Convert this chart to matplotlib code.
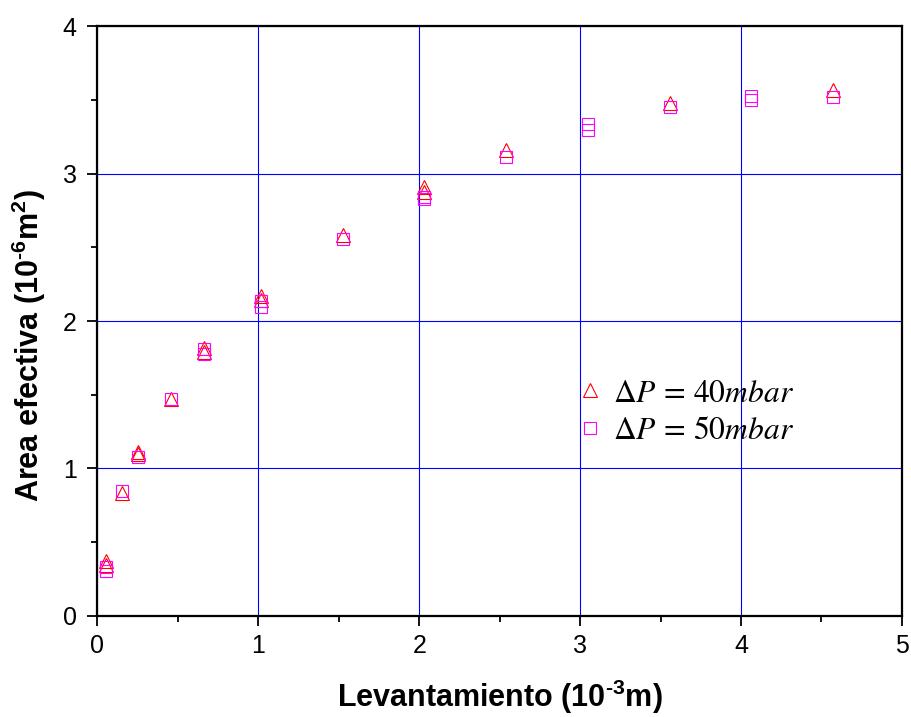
import numpy as np
import matplotlib
matplotlib.use("Agg")
import matplotlib.pyplot as plt

# lift in 1e-3 m, effective area in 1e-6 m^2 (repeated runs at some lifts)
lift_40 = [0.0508, 0.0508, 0.1524, 0.254, 0.254, 0.4572, 0.6604, 0.6604,
           1.016, 1.016, 1.524, 2.032, 2.032, 2.54, 3.556, 4.572]
area_40 = [0.375, 0.346, 0.834, 1.112, 1.100, 1.471, 1.815, 1.788,
           2.167, 2.142, 2.583, 2.906, 2.877, 3.158, 3.478, 3.568]

lift_50 = [0.0508, 0.0508, 0.1524, 0.254, 0.4572, 0.6604, 0.6604,
           1.016, 1.016, 1.524, 2.032, 2.032, 2.54, 3.048, 3.048,
           3.556, 4.064, 4.064, 4.572]
area_50 = [0.334, 0.307, 0.847, 1.076, 1.470, 1.810, 1.774,
           2.138, 2.097, 2.556, 2.838, 2.827, 3.114, 3.336, 3.295,
           3.450, 3.527, 3.498, 3.520]

labels = [r"$\Delta P\,=\,40mbar$", r"$\Delta P\,=\,50mbar$"]

plt.rcParams["font.family"] = ["Liberation Sans", "DejaVu Sans"]
plt.rcParams["mathtext.fontset"] = "custom"
plt.rcParams["mathtext.rm"] = "Liberation Sans:bold"
plt.rcParams["mathtext.it"] = "Liberation Sans:bold"
plt.rcParams["mathtext.bf"] = "Liberation Sans:bold"

fig = plt.figure(figsize=(9.11, 7.17), dpi=100)
ax = fig.add_axes([0.107, 0.1409, 0.883, 0.8228])

ax.plot(lift_40, area_40, linestyle="none", marker="^", markersize=10.5,
        markerfacecolor="none", markeredgecolor="#ff0000",
        markeredgewidth=0.8, label=labels[0])
ax.plot(lift_50, area_50, linestyle="none", marker="s", markersize=8,
        markerfacecolor="none", markeredgecolor="#ff00ff",
        markeredgewidth=0.8, label=labels[1])

ax.set_xlim(0, 5)
ax.set_ylim(0, 4)
ax.set_xticks(np.arange(0, 6, 1))
ax.set_yticks(np.arange(0, 5, 1))
ax.set_xticks(np.arange(0.5, 5, 1), minor=True)
ax.set_yticks(np.arange(0.5, 4, 1), minor=True)
ax.grid(True, which="major", color="#0000ff", linewidth=0.8)
ax.set_axisbelow(True)

for sp in ax.spines.values():
    sp.set_linewidth(1.6)
ax.tick_params(which="major", direction="out", length=7, width=1.3,
               labelsize=18, pad=6)
ax.tick_params(axis="y", which="major", pad=8)
ax.tick_params(which="minor", direction="out", length=4, width=1.3)

ax.set_xlabel(r"Levantamiento (10$^{\text{-}3}$m)", fontsize=22,
              fontweight="bold", labelpad=14)
ax.set_ylabel(r"Area efectiva (10$^{\text{-}6}$m$^2$)",
              fontsize=22, fontweight="bold")
ax.yaxis.set_label_coords(-0.061, 0.459)

leg = ax.legend(loc="center left", bbox_to_anchor=(0.558, 0.345),
                frameon=False, fontsize=22.7, handletextpad=0.2,
                labelspacing=0.25, handlelength=1.0)
for t in leg.get_texts():
    t.set_math_fontfamily("stix")

fig.savefig("out.png", dpi=100)
